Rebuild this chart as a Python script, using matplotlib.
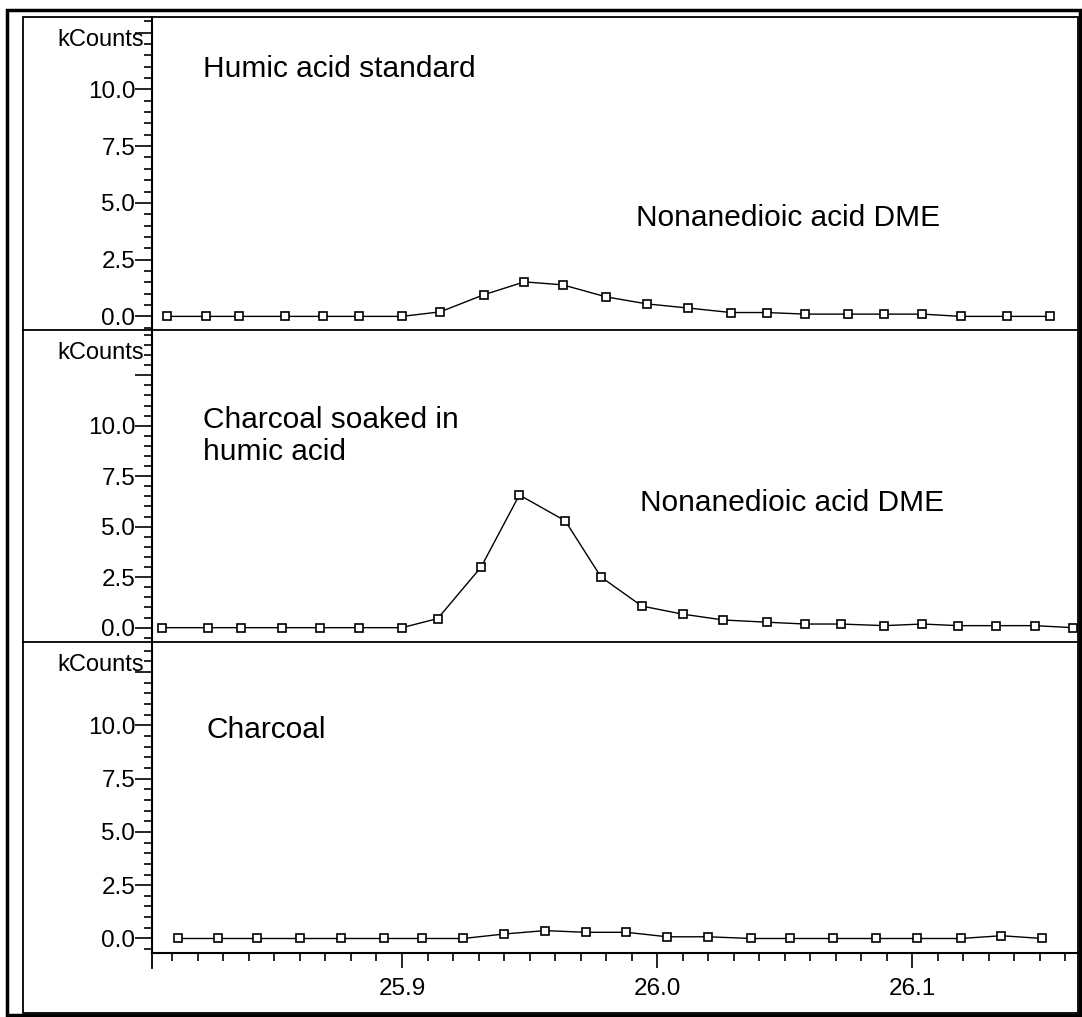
import matplotlib.pyplot as plt
from matplotlib.lines import Line2D
from matplotlib.patches import Rectangle
from matplotlib.ticker import MultipleLocator, FixedLocator

plt.rcParams['font.family'] = ['Liberation Sans', 'DejaVu Sans']

# Data (retention time in min, kCounts)
humic_x = [25.808, 25.823, 25.836, 25.854, 25.869, 25.883, 25.900, 25.915, 25.932, 25.948,
           25.963, 25.980, 25.996, 26.012, 26.029, 26.043, 26.058, 26.075, 26.089, 26.104,
           26.119, 26.137, 26.154]
humic_y = [0, 0, 0, 0, 0, 0, 0, 0.2, 0.95, 1.52, 1.39, 0.86, 0.55, 0.37, 0.17, 0.17,
           0.1, 0.1, 0.1, 0.1, 0, 0, 0]

soaked_x = [25.806, 25.824, 25.837, 25.853, 25.868, 25.883, 25.900, 25.914, 25.931, 25.946,
            25.964, 25.978, 25.994, 26.010, 26.026, 26.043, 26.058, 26.072, 26.089, 26.104,
            26.118, 26.133, 26.148, 26.163]
soaked_y = [0, 0, 0, 0, 0, 0, 0, 0.45, 3.0, 6.57, 5.29, 2.51, 1.07, 0.67, 0.38, 0.27,
            0.18, 0.18, 0.1, 0.18, 0.1, 0.1, 0.1, 0.0]

charcoal_x = [25.812, 25.828, 25.843, 25.860, 25.876, 25.893, 25.908, 25.924, 25.940, 25.956,
              25.972, 25.988, 26.004, 26.020, 26.037, 26.052, 26.069, 26.086, 26.102, 26.119,
              26.135, 26.151]
charcoal_y = [0, 0, 0, 0, 0, 0, 0, 0, 0.21, 0.37, 0.29, 0.29, 0.08, 0.08, 0, 0, 0, 0, 0, 0,
              0.13, 0]

yticks = [0, 2.5, 5.0, 7.5, 10.0, 12.5]
ytick_labels = ['0.0', '2.5', '5.0', '7.5', '10.0', '']
xticks = [25.9, 26.0, 26.1]
xlim = (25.802, 26.165)

W, H = 1082, 1017
fig = plt.figure(figsize=(W / 100, H / 100), dpi=100)

def fx(px):
    return px / W

def fy(py):
    return 1 - py / H

left, right = 152, 1078
panels = [
    # (top px, bottom px, ylim, x, y, labels)
    (17, 330, (-0.6, 13.19), humic_x, humic_y,
     [("Humic acid standard", 0.055, 0.834), ("Nonanedioic acid DME", 0.523, 0.358)]),
    (330, 642, (-0.71, 14.74), soaked_x, soaked_y,
     [("Charcoal soaked in\nhumic acid", 0.055, 0.66), ("Nonanedioic acid DME", 0.527, 0.445)]),
    (642, 953, (-0.68, 13.9), charcoal_x, charcoal_y,
     [("Charcoal", 0.059, 0.717)]),
]

axes = []
for i, (top, bot, ylim, xs, ys, labels) in enumerate(panels):
    ax = fig.add_axes([fx(left), fy(bot), fx(right - left), (bot - top) / H])
    ax.plot(xs, ys, color='black', lw=1.0, marker='s', ms=6, mfc='white',
            mec='black', mew=1.2)
    ax.set_xlim(*xlim)
    ax.set_ylim(*ylim)
    ax.yaxis.set_major_locator(FixedLocator(yticks))
    ax.set_yticklabels(ytick_labels)
    ax.yaxis.set_minor_locator(MultipleLocator(0.5))
    ax.tick_params(axis='y', which='major', length=12, width=1.2, pad=0, labelsize=17.5)
    ax.tick_params(axis='y', which='minor', length=6, width=1.2)
    for s in ['top', 'right', 'bottom']:
        ax.spines[s].set_visible(False)
    ax.spines['left'].set_linewidth(1.5)
    ax.annotate('kCounts', xy=(0, 0.925), xycoords='axes fraction',
                xytext=(-6, 0), textcoords='offset points',
                ha='right', va='center', fontsize=17)
    for txt, tx, ty in labels:
        ax.text(tx, ty, txt, transform=ax.transAxes, fontsize=21.5,
                ha='left', va='center', linespacing=1.15)
    if i < 2:
        ax.tick_params(axis='x', which='both', bottom=False, labelbottom=False)
    axes.append(ax)

ax = axes[-1]
ax.spines['bottom'].set_visible(True)
ax.spines['bottom'].set_linewidth(1.5)
ax.xaxis.set_major_locator(FixedLocator(xticks))
ax.set_xticklabels(['25.9', '26.0', '26.1'])
ax.xaxis.set_minor_locator(MultipleLocator(0.01))
ax.tick_params(axis='x', which='major', length=11, width=1.2, pad=7, labelsize=17.5)
ax.tick_params(axis='x', which='minor', length=6, width=1.2)

# frame lines around the panels
lines = [
    ((23, 1078), (330, 330)),
    ((23, 1078), (642, 642)),
    ((152, 152), (953, 968)),
]
for xs, ys in lines:
    fig.add_artist(Line2D([fx(x) for x in xs], [fy(y) for y in ys],
                          color='black', lw=1.3))
fig.add_artist(Rectangle((fx(23), fy(1013)), fx(1078 - 23), (1013 - 17) / H,
                         fill=False, ec='black', lw=1.3))
fig.add_artist(Rectangle((fx(7), fy(1015)), fx(1080 - 7), (1015 - 10) / H,
                         fill=False, ec='black', lw=2.5))

fig.savefig('out.png', dpi=100)
